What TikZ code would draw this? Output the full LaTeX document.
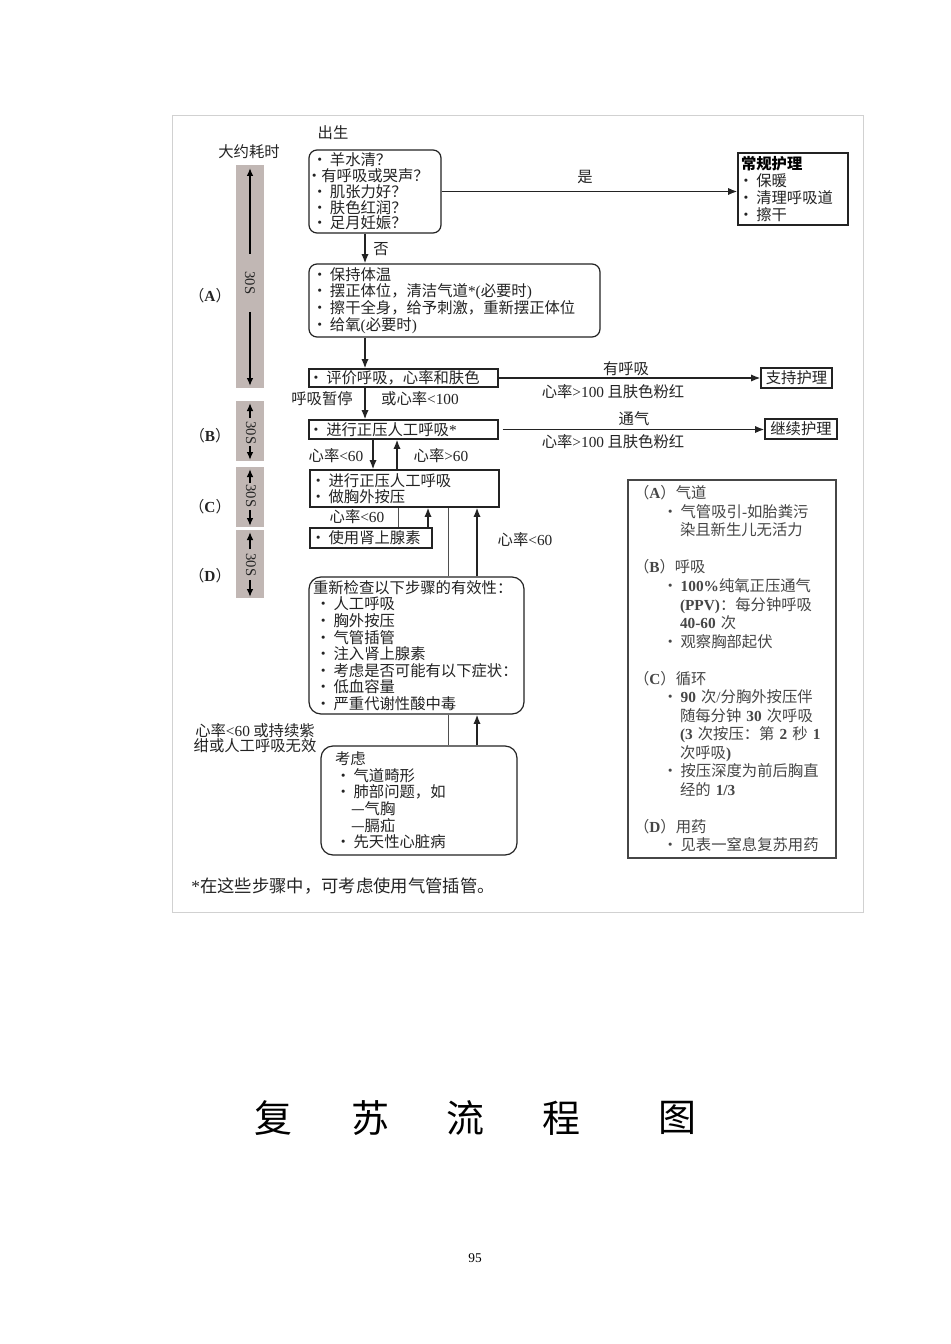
\documentclass[tikz,border=0pt]{standalone}
\usepackage{fontspec}
\usetikzlibrary{arrows.meta}
\newfontfamily\cjk{Noto Sans CJK SC}
\newfontfamily\ser{Liberation Serif}
\definecolor{barc}{RGB}{193,183,180}
\definecolor{ink}{RGB}{35,35,35}
\definecolor{soft}{RGB}{70,70,70}
\newcommand\lat[1]{{\ser #1}}
\newcommand\bu{•\kern2pt\relax}
\begin{document}
\begin{tikzpicture}[x=0.75pt,y=-0.75pt,
  fs/.style={font=\cjk\fontsize{11.5}{#1}\selectfont},
  txt/.style={fs=12.5, text=ink, inner sep=0pt},
  rbox/.style={draw=ink, line width=0.9pt, rounded corners=6pt, align=left, text=ink, inner ysep=0pt},
  sbox/.style={draw=ink, line width=0.9pt, align=left, text=ink, inner ysep=0pt},
  arr/.style={draw=ink, line width=1.2pt, -{Latex[length=7pt,width=5.5pt]}},
  thinl/.style={draw=ink!80, line width=0.75pt},
  tbar/.style={fill=barc, draw=none, minimum width=21pt, inner sep=0pt},
  barr/.style={draw=black, line width=1.2pt, -{Latex[length=6pt,width=5pt]}},
  sec/.style={font=\ser\fontsize{11}{12}\selectfont, rotate=-90, inner sep=0pt, text=ink},
]
\useasboundingbox (0,0) rectangle (950,1344);
\fill[white] (0,0) rectangle (950,1344);
\draw[black!18, line width=0.7pt] (172,115) rectangle (863,912);

% x positions for vertical connectors
\coordinate (x365) at (365,0);
\coordinate (x373) at (373,0);
\coordinate (x397) at (397,0);
\coordinate (x398) at (398,0);
\coordinate (x428) at (428,0);
\coordinate (x448) at (448,0);
\coordinate (x477) at (477,0);

% time bars
\node[txt] (time) at (249,152) {大约耗时};
\node[tbar, minimum height=167.25pt] (barA) at (250,276.5) {};
\node[tbar, minimum height=45pt] (barB) at (250,431) {};
\node[tbar, minimum height=45pt] (barC) at (250,497) {};
\node[tbar, minimum height=51pt] (barD) at (250,564) {};
\node[sec] (sA) at (250,283) {30S};
\node[sec] (sB) at (251,433) {30S};
\node[sec] (sC) at (251,496) {30S};
\node[sec] (sD) at (251,565) {30S};
\draw[barr] (250,254) -- (250,168);
\draw[barr] (250,312) -- (250,386);
\draw[barr] (250,418) -- (250,403);
\draw[barr] (250,446) -- (250,460);
\draw[barr] (250,483) -- (250,469);
\draw[barr] (250,510) -- (250,526);
\draw[barr] (250,549) -- (250,532);
\draw[barr] (250,580) -- (250,597);
\node[txt] (la) at (210,296) {（\lat{\bfseries A}）};
\node[txt] (lb) at (210,436) {（\lat{\bfseries B}）};
\node[txt] (lc) at (210,507) {（\lat{\bfseries C}）};
\node[txt] (ld) at (210,576) {（\lat{\bfseries D}）};

% boxes
\node[txt] (born) at (333,133) {出生};
\node[rbox, fs=11.8, inner xsep=2.25pt, text width=94.5pt, minimum height=62.25pt] (q) at (375,191.5)
  {\bu 羊水清？\\\hspace*{-4pt}•\kern-0.5pt 有呼吸或哭声？\\\bu 肌张力好？\\\bu 肤色红润？\\\bu 足月妊娠？};
\node[sbox, fs=12.75, inner xsep=2.25pt, text width=78pt, minimum height=54pt] (routine) at (793,189)
  {{\bfseries\color{black}常规护理}\\\hspace*{-2pt}\bu 保暖\\\hspace*{-2pt}\bu 清理呼吸道\\\hspace*{-2pt}\bu 擦干};
\node[rbox, fs=12.5, inner xsep=2.25pt, text width=213.75pt, minimum height=54.75pt] (boxA) at (454.5,300.5)
  {\bu 保持体温\\\bu 摆正体位，清洁气道\lat{*(}必要时\lat{)}\\\bu 擦干全身，给予刺激，重新摆正体位\\\bu 给氧\lat{(}必要时\lat{)}};
\node[sbox, fs=12.5, inner xsep=0pt, text width=141.75pt, minimum height=13.5pt] (eval) at (403.5,378)
  {\hspace*{-0.5pt}\bu 评价呼吸，心率和肤色};
\node[sbox, fs=12.5, inner xsep=1pt, minimum width=53.25pt, minimum height=15pt, align=center] (support) at (796.5,378) {支持护理};
\node[sbox, fs=12.5, inner xsep=0pt, text width=141.75pt, minimum height=14.25pt] (ppv) at (403.5,429.5)
  {\hspace*{-0.5pt}\bu 进行正压人工呼吸\lat{*}};
\node[sbox, fs=12, inner xsep=0.5pt, text width=140.75pt, minimum height=27.75pt] (cc) at (404.5,488.5)
  {\bu 进行正压人工呼吸\\\bu 做胸外按压};
\node[sbox, fs=12.5, inner xsep=1pt, minimum width=54pt, minimum height=15pt, align=center] (cont) at (801,429) {继续护理};
\node[sbox, fs=12.5, inner xsep=0.5pt, text width=90.5pt, minimum height=15pt] (epi) at (371,538)
  {\bu 使用肾上腺素};
\node[rbox, rounded corners=9pt, fs=12.45, inner xsep=3pt, text width=155.25pt, minimum height=102.75pt] (recheck) at (416.5,645.5)
  {重新检查以下步骤的有效性：\\\hspace*{2pt}\bu 人工呼吸\\\hspace*{2pt}\bu 胸外按压\\\hspace*{2pt}\bu 气管插管\\\hspace*{2pt}\bu 注入肾上腺素\\\hspace*{2pt}\bu 考虑是否可能有以下症状：\\\hspace*{2pt}\bu 低血容量\\\hspace*{2pt}\bu 严重代谢性酸中毒};
\node[rbox, rounded corners=9pt, fs=12.5, inner xsep=10.5pt, text width=126pt, minimum height=81.75pt] (consider) at (419,800.5)
  {考虑\\\hspace*{0.5pt}\bu 气道畸形\\\hspace*{0.5pt}\bu 肺部问题，如\\\hspace*{12pt}—气胸\\\hspace*{12pt}—膈疝\\\hspace*{0.5pt}\bu 先天性心脏病};
\node[sbox, draw=soft, line width=0.9pt, fs=13.9, text=soft, inner xsep=4.5pt, text width=147pt, minimum height=283.5pt] (info) at (732,669)
  {（\lat{\bfseries A}）气道\\
   \hspace*{21.5pt}\bu 气管吸引\lat{-}如胎粪污\\
   \hspace*{34.5pt}染且新生儿无活力\\
   \mbox{}\\
   （\lat{\bfseries B}）呼吸\\
   \hspace*{21.5pt}\bu \lat{\bfseries 100\%}纯氧正压通气\\
   \hspace*{34.5pt}\lat{\bfseries (PPV)}：每分钟呼吸\\
   \hspace*{34.5pt}\lat{\bfseries 40-60} 次\\
   \hspace*{21.5pt}\bu 观察胸部起伏\\
   \mbox{}\\
   （\lat{\bfseries C}）循环\\
   \hspace*{21.5pt}\bu \lat{\bfseries 90} 次\lat{/}分胸外按压伴\\
   \hspace*{34.5pt}随每分钟 \lat{\bfseries 30} 次呼吸\\
   \hspace*{34.5pt}\lat{\bfseries (3} 次按压：第 \lat{\bfseries 2} 秒 \lat{\bfseries 1}\\
   \hspace*{34.5pt}次呼吸\lat{\bfseries )}\\
   \hspace*{21.5pt}\bu 按压深度为前后胸直\\
   \hspace*{34.5pt}经的 \lat{\bfseries 1/3}\\
   \mbox{}\\
   （\lat{\bfseries D}）用药\\
   \hspace*{21.5pt}\bu 见表一窒息复苏用药};

% labels
\node[txt] (yes) at (585,177) {是};
\node[txt] (no) at (381,249) {否};
\node[txt] (hasbr) at (626,369) {有呼吸};
\node[txt] (hr1) at (613,392) {心率\lat{>100} 且肤色粉红};
\node[txt] (apnea) at (322,399) {呼吸暂停};
\node[txt] (hr2) at (420,399) {或心率\lat{<100}};
\node[txt] (vent) at (634,419) {通气};
\node[txt] (hr3) at (613,442) {心率\lat{>100} 且肤色粉红};
\node[txt] (hr4) at (336,456) {心率\lat{<60}};
\node[txt] (hr5) at (441,456) {心率\lat{>60}};
\node[txt] (hr6) at (357,517) {心率\lat{<60}};
\node[txt] (hr7) at (525,540) {心率\lat{<60}};
\node[txt, fs=11.3, align=center] (hr8) at (255,738.5) {心率\lat{<60} 或持续紫\\绀或人工呼吸无效};
\node[txt, font=\cjk\fontsize{13}{14}\selectfont] (foot) at (343,886) {\lat{*}在这些步骤中，可考虑使用气管插管。};

% connectors
\draw[arr] (q.east) -- (q.east -| routine.west);
\draw[arr] (q.south -| x365) -- (boxA.north -| x365);
\draw[arr] (boxA.south -| x365) -- (eval.north -| x365);
\draw[arr] (eval.east) -- (eval.east -| support.west);
\draw[arr] (eval.south -| x365) -- (ppv.north -| x365);
\draw[arr] ([xshift=3pt]ppv.east) -- (ppv.east -| cont.west);
\draw[arr] (ppv.south -| x373) -- (cc.north -| x373);
\draw[arr] (cc.north -| x397) -- (ppv.south -| x397);
\draw[thinl] (cc.south -| x398) -- (epi.north -| x398);
\draw[arr] (epi.north -| x428) -- (cc.south -| x428);
\draw[thinl] (cc.south -| x448) -- (recheck.north -| x448);
\draw[arr] (recheck.north -| x477) -- (cc.south -| x477);
\draw[thinl] (recheck.south -| x448) -- (consider.north -| x448);
\draw[arr] (consider.north -| x477) -- (recheck.south -| x477);

% title and page number
\node[font=\cjk\fontsize{28.5}{30}\selectfont, text=black] (t1) at (273,1118) {复};
\node[font=\cjk\fontsize{28.5}{30}\selectfont, text=black] (t2) at (370,1118) {苏};
\node[font=\cjk\fontsize{28.5}{30}\selectfont, text=black] (t3) at (465,1118) {流};
\node[font=\cjk\fontsize{28.5}{30}\selectfont, text=black] (t4) at (561,1118) {程};
\node[font=\cjk\fontsize{28.5}{30}\selectfont, text=black] (t5) at (677,1118) {图};
\node[font=\ser\fontsize{10}{12}\selectfont] (pg) at (475,1258) {95};
\end{tikzpicture}
\end{document}
